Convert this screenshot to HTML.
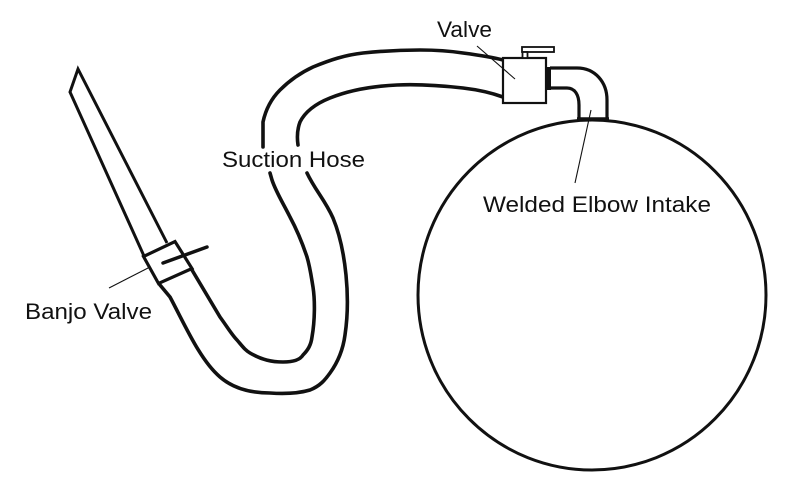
<!DOCTYPE html>
<html>
<head>
<meta charset="utf-8">
<style>
  html, body { margin:0; padding:0; background:#fff; }
  body { width:800px; height:500px; overflow:hidden; }
  svg { display:block; }
  text { font-family: "Liberation Sans", Arial, sans-serif; font-size:22px; fill:#111; }
</style>
</head>
<body>
<svg width="800" height="500" viewBox="0 0 800 500" xmlns="http://www.w3.org/2000/svg">
  <rect x="0" y="0" width="800" height="500" fill="#fff"/>

  <!-- Tank -->
  <ellipse cx="592" cy="295" rx="174" ry="175" fill="none" stroke="#111" stroke-width="3"/>

  <!-- Left pipe (intake) -->
  <path d="M144,256 L70,92 L78,69 L167,243" fill="none" stroke="#111" stroke-width="3" stroke-linejoin="miter"/>

  <!-- Banjo valve box -->
  <polygon points="143.5,256.5 175,241.5 192,268.5 158.5,283.5" fill="#fff" stroke="#111" stroke-width="3.2" stroke-linejoin="miter"/>
  <line x1="163" y1="263" x2="207" y2="247" stroke="#111" stroke-width="3.5" stroke-linecap="round"/>

  <!-- Hose line A -->
  <path d="M160,285 L170,297 C185,325 200,360 220,377 C235,390 255,393 270,393 C285,394 300,393 310,390 C320,386 325,380 330,373 C338,362 343,350 345,335 C348,315 348,295 346,275 C344,255 340,235 333,218 C325,200 315,190 307,173"
        fill="none" stroke="#111" stroke-width="3.6" stroke-linecap="round" stroke-linejoin="round"/>
  <path d="M298,145 C297,138 297,130 300,122 C305,112 315,104 330,98 C350,90 375,86 397,85 C420,84 445,86 463,88 C480,90 492,93 503,97"
        fill="none" stroke="#111" stroke-width="3.6" stroke-linecap="round" stroke-linejoin="round"/>

  <!-- Hose line B -->
  <path d="M192,270 L220,317 C228,328 232,335 237,340 C243,347 245,350 250,353 C262,360 272,362 283,362 C292,362 300,360 303,355 C308,350 311,345 312,337 C315,320 315,300 313,287 C311,275 310,267 307,257 C302,242 297,230 290,217 C283,203 276,192 272,180 L270,173"
        fill="none" stroke="#111" stroke-width="3.6" stroke-linecap="round" stroke-linejoin="round"/>
  <path d="M263,147 L263,122 C266,108 272,98 280,90 C290,80 300,73 313,67 C330,60 345,55 363,53 C382,51 400,50 420,50 C435,50 450,51 463,53 C478,55 492,57 503,60"
        fill="none" stroke="#111" stroke-width="3.6" stroke-linecap="round" stroke-linejoin="round"/>

  <!-- Valve -->
  <rect x="503" y="58" width="43" height="45" fill="#fff" stroke="#111" stroke-width="2.2"/>
  <rect x="522" y="47" width="32" height="5" fill="#fff" stroke="#111" stroke-width="1.8"/>
  <rect x="522.5" y="52" width="5" height="6" fill="#fff" stroke="#111" stroke-width="1.8"/>
  <rect x="545" y="67" width="6" height="23" fill="#111"/>

  <!-- Elbow -->
  <path d="M550,68 L577,68 C595,68 607,82 607,100 L607,118" fill="none" stroke="#111" stroke-width="3.2"/>
  <path d="M550,88 L567,88 C575,88 579,95 579,105 L579,118" fill="none" stroke="#111" stroke-width="3.2"/>
  <line x1="577" y1="119" x2="609" y2="119" stroke="#111" stroke-width="3.5"/>

  <!-- Leader lines -->
  <line x1="477" y1="46" x2="515" y2="79" stroke="#111" stroke-width="1.1"/>
  <line x1="591" y1="110" x2="575" y2="183" stroke="#111" stroke-width="1.1"/>
  <line x1="109" y1="288" x2="150" y2="267" stroke="#111" stroke-width="1.1"/>

  <!-- Labels -->
  <text x="437" y="37" textLength="55" lengthAdjust="spacingAndGlyphs">Valve</text>
  <text x="222" y="167" textLength="143" lengthAdjust="spacingAndGlyphs">Suction Hose</text>
  <text x="483" y="212" textLength="228" lengthAdjust="spacingAndGlyphs">Welded Elbow Intake</text>
  <text x="25" y="319" textLength="127" lengthAdjust="spacingAndGlyphs">Banjo Valve</text>
</svg>
</body>
</html>
